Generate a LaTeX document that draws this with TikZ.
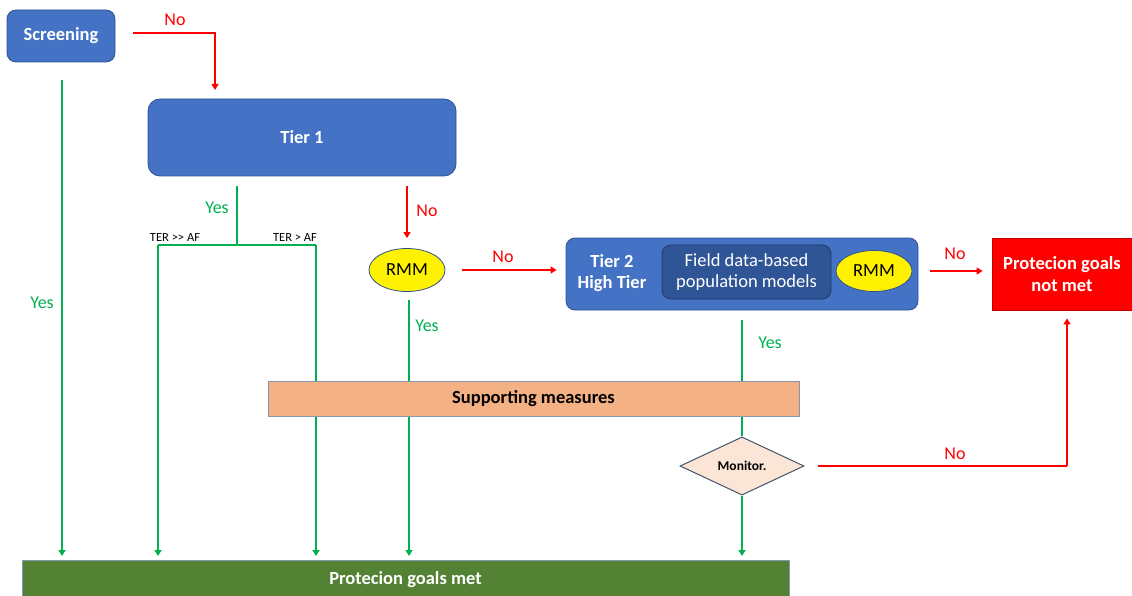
\documentclass[tikz,border=0pt]{standalone}
\usepackage{fontspec}
\setmainfont{Carlito}
\usetikzlibrary{arrows.meta,shapes.geometric}
\definecolor{boxblue}{HTML}{4472C4}
\definecolor{boxedge}{HTML}{2F528F}
\definecolor{innerblue}{HTML}{2F5597}
\definecolor{innerEdge}{HTML}{1F3864}
\definecolor{grn}{HTML}{00B050}
\definecolor{rd}{HTML}{FF0000}
\definecolor{supfill}{HTML}{F4B183}
\definecolor{supedge}{HTML}{8497B0}
\definecolor{monfill}{HTML}{FBE5D6}
\definecolor{monedge}{HTML}{44546A}
\definecolor{metfill}{HTML}{548235}
\pgfdeclarelayer{bg}
\pgfsetlayers{bg,main}
\tikzset{
  bluebox/.style={draw=boxedge, line width=0.8pt, fill=boxblue, rounded corners=9pt, inner sep=0pt, text=white, font=\fontsize{18.5}{21.5}\selectfont\bfseries, align=center},
  rmm/.style={ellipse, draw=boxedge, line width=0.8pt, fill=yellow, inner sep=0pt, minimum width=76pt, minimum height=43pt, font=\fontsize{18.5}{21}\selectfont},
  gline/.style={draw=grn, line width=2.4pt},
  garr/.style={gline, -{Triangle[width=7pt,length=6pt]}},
  rline/.style={draw=rd, line width=2.4pt},
  rarr/.style={rline, -{Triangle[width=7pt,length=6pt]}},
  glab/.style={text=grn, font=\fontsize{18}{21}\selectfont, inner sep=0pt},
  rlab/.style={text=rd, font=\fontsize{18}{21}\selectfont, inner sep=0pt},
  terlab/.style={font=\fontsize{12.5}{14}\selectfont, inner sep=0pt},
}
\begin{document}
\begin{tikzpicture}[x=1pt,y=-1pt]
\useasboundingbox (0,0) rectangle (1132,596);
% nodes
\node[bluebox, minimum width=108pt, minimum height=52pt] (scr) at (61,36) {Screening};
\node[bluebox, minimum width=308pt, minimum height=77pt, rounded corners=12pt] (t1) at (302,137.5) {Tier 1};
\node[rmm] (rmm1) at (407,270) {RMM};
\node[bluebox, minimum width=352pt, minimum height=72pt] (t2) at (742,274) {};
\node[text=white, font=\fontsize{18.5}{21.5}\selectfont\bfseries, align=center, inner sep=0pt] (t2txt) at (612,273) {Tier 2\\High Tier};
\node[draw=innerEdge, line width=0.8pt, fill=innerblue, rounded corners=9pt, minimum width=169pt, minimum height=54pt, inner sep=0pt, text=white, font=\fontsize{18.5}{21.5}\selectfont, align=center] (fld) at (746.5,272) {Field data-based\\population models};
\node[rmm, minimum height=41pt] (rmm2) at (874,271) {RMM};
\node[draw=rd!75!black, line width=0.8pt, fill=rd, minimum width=140pt, minimum height=72pt, inner sep=0pt, text=white, font=\fontsize{18.5}{21.5}\selectfont\bfseries, align=center] (nm) at (1062,274) {Protecion goals\\not met};
\node[draw=supedge, line width=1pt, fill=supfill, minimum width=531pt, minimum height=35pt, inner sep=0pt, font=\fontsize{18.5}{21}\selectfont\bfseries] (sup) at (533.5,398.5) {Supporting measures};
\node[diamond, draw=monedge, line width=1pt, fill=monfill, minimum width=124pt, minimum height=54pt, inner sep=0pt, font=\fontsize{13.5}{15}\selectfont\bfseries] (mon) at (742,466) {Monitor.};
\node[draw=supedge, line width=1pt, fill=metfill, minimum width=767pt, minimum height=40pt, inner sep=0pt, text=white, font=\fontsize{18.5}{21}\selectfont\bfseries] (met) at (405.5,580) {Protecion goals met};
% coordinates
\coordinate (t1in) at (215,90);
\coordinate (j1) at (237,245);
\coordinate (jl) at (158,245);
\coordinate (jr) at (316,245);
\coordinate (mnr) at (1067,466);
\begin{pgfonlayer}{bg}
% screening
\draw[rarr] ([xshift=18pt,yshift=3pt]scr.east) -| (t1in);
\draw[garr] (62,80) -- (62,556);
% tier 1 yes
\draw[gline] ([yshift=-10pt]t1.south -| j1) -- (j1);
\draw[gline] (jl) -- (jr);
\draw[garr] (jl) -- (jl |- 0,556);
\draw[garr] (jr) -- (jr |- 0,556);
% tier1 no
\draw[rarr] ([yshift=-10pt]t1.south -| rmm1) -- ([yshift=10pt]rmm1.north);
% rmm yes
\draw[garr] (409,300) -- (409,556);
% rmm no
\draw[rarr] ([xshift=17pt]rmm1.east) -- ([xshift=-9pt]t2.west |- rmm1.east);
% tier2 no
\draw[rarr] ([xshift=12pt,yshift=3pt]t2.east) -- ([xshift=-9pt,yshift=3pt]nm.west);
% tier2 yes
\draw[gline] ([yshift=-10pt]t2.south) -- (mon.north);
\draw[garr] (mon.south) -- (742,556);
% monitor no
\draw[rline] ([xshift=13pt]mon.east) -- (mnr);
\draw[rarr] (mnr) -- ([yshift=-8pt]nm.south -| mnr);
\end{pgfonlayer}
% labels
\node[rlab] (l1) at (175,20) {No};
\node[glab] (l2) at (42,303) {Yes};
\node[glab] (l3) at (217,208) {Yes};
\node[terlab] (l4) at (175,237) {TER >{}> AF};
\node[terlab] (l5) at (295,237) {TER > AF};
\node[rlab] (l6) at (427,211) {No};
\node[glab] (l7) at (427,326) {Yes};
\node[rlab] (l8) at (503,257) {No};
\node[rlab] (l9) at (955,254) {No};
\node[glab] (l10) at (770,343) {Yes};
\node[rlab] (l11) at (955,454) {No};
\end{tikzpicture}
\end{document}
